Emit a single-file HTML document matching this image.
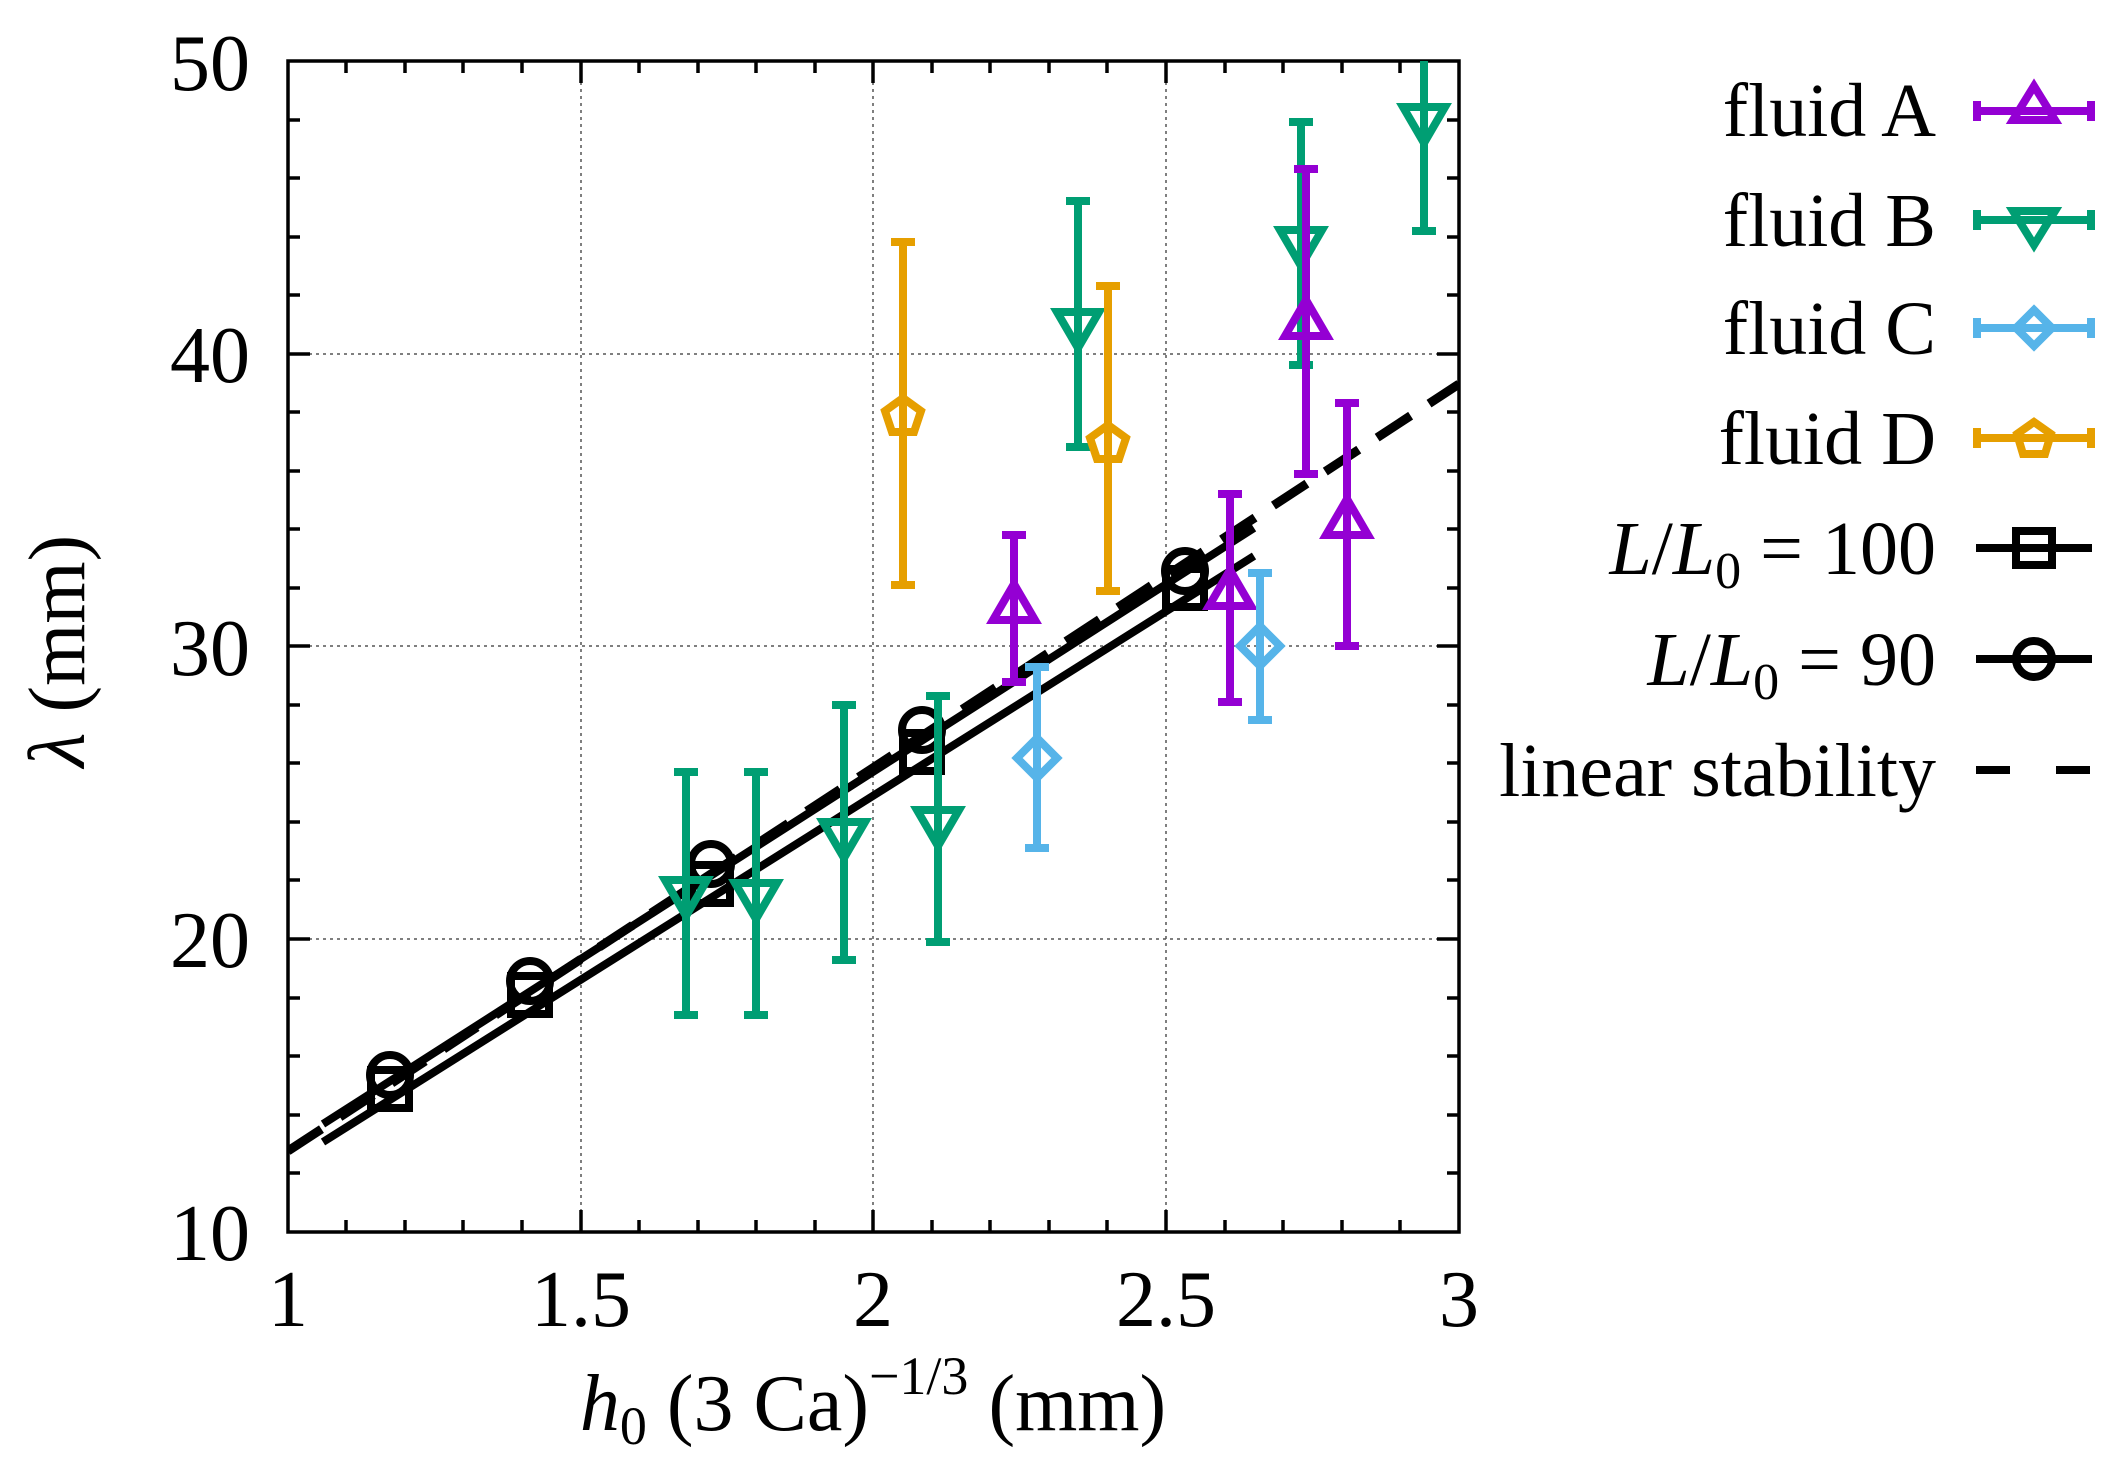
<!DOCTYPE html>
<html><head><meta charset="utf-8"><style>
html,body{margin:0;padding:0;background:#fff;}
svg{display:block;}
text{font-family:"Liberation Serif",serif;fill:#000;}
</style></head><body>
<svg width="2122" height="1465" viewBox="0 0 2122 1465" xmlns="http://www.w3.org/2000/svg">
<defs>
<clipPath id="c"><rect x="288" y="61" width="1171" height="1171"/></clipPath>
</defs>
<g stroke="#555" stroke-width="1.5" stroke-dasharray="3,4">
<line x1="581" y1="61" x2="581" y2="1232"/>
<line x1="873" y1="61" x2="873" y2="1232"/>
<line x1="1166" y1="61" x2="1166" y2="1232"/>
<line x1="288" y1="939" x2="1459" y2="939"/>
<line x1="288" y1="646" x2="1459" y2="646"/>
<line x1="288" y1="354" x2="1459" y2="354"/>
</g>
<g stroke="#000" stroke-width="3.5">
<path d="M346,1232v-12M405,1232v-12M463,1232v-12M522,1232v-12M581,1232v-22M639,1232v-12M698,1232v-12M756,1232v-12M815,1232v-12M873,1232v-22M932,1232v-12M990,1232v-12M1049,1232v-12M1107,1232v-12M1166,1232v-22M1225,1232v-12M1283,1232v-12M1342,1232v-12M1400,1232v-12"/>
<path d="M346,61v12M405,61v12M463,61v12M522,61v12M581,61v22M639,61v12M698,61v12M756,61v12M815,61v12M873,61v22M932,61v12M990,61v12M1049,61v12M1107,61v12M1166,61v22M1225,61v12M1283,61v12M1342,61v12M1400,61v12"/>
<path d="M288,1173h12M288,1115h12M288,1056h12M288,998h12M288,939h22M288,880h12M288,822h12M288,763h12M288,705h12M288,646h22M288,588h12M288,529h12M288,471h12M288,412h12M288,354h22M288,295h12M288,237h12M288,178h12M288,120h12"/>
<path d="M1459,1173h-12M1459,1115h-12M1459,1056h-12M1459,998h-12M1459,939h-22M1459,880h-12M1459,822h-12M1459,763h-12M1459,705h-12M1459,646h-22M1459,588h-12M1459,529h-12M1459,471h-12M1459,412h-12M1459,354h-22M1459,295h-12M1459,237h-12M1459,178h-12M1459,120h-12"/>
</g>
<rect x="288" y="61" width="1171" height="1171" fill="none" stroke="#000" stroke-width="3.5"/>
<g font-size="80" text-anchor="end">
<text x="250" y="1260">10</text><text x="250" y="967">20</text><text x="250" y="675">30</text><text x="250" y="382">40</text><text x="250" y="90">50</text>
</g>
<g font-size="80" text-anchor="middle">
<text x="288" y="1326">1</text><text x="581" y="1326">1.5</text><text x="873" y="1326">2</text><text x="1166" y="1326">2.5</text><text x="1459" y="1326">3</text>
</g>
<text x="873" y="1430" font-size="80" text-anchor="middle"><tspan font-style="italic">h</tspan><tspan font-size="54" dy="14">0</tspan><tspan dy="-14"> (3 Ca)</tspan><tspan font-size="54" dy="-36">−1/3</tspan><tspan dy="36"> (mm)</tspan></text>
<text transform="translate(84,651) rotate(-90)" font-size="80" text-anchor="middle"><tspan font-style="italic">λ</tspan> (mm)</text>

<g clip-path="url(#c)">
<line x1="288" y1="1151" x2="1459" y2="384" stroke="#000" stroke-width="9" stroke-dasharray="40,22"/>
<polyline points="323,1142 1254,556" stroke="#000" stroke-width="8" fill="none"/>
<polyline points="323,1124 1254,528" stroke="#000" stroke-width="8" fill="none"/>
<g fill="none" stroke="#000" stroke-width="8">
<rect x="371" y="1070" width="38" height="38"/><rect x="511" y="976" width="38" height="38"/><rect x="692" y="865" width="38" height="38"/><rect x="903" y="733" width="38" height="38"/><rect x="1166" y="569" width="38" height="38"/>
<circle cx="390" cy="1075" r="20"/><circle cx="530" cy="981" r="20"/><circle cx="711" cy="864" r="20"/><circle cx="922" cy="730" r="20"/><circle cx="1185" cy="571" r="20"/>
</g>
<g stroke="#009E73" stroke-width="8" fill="none">
<path d="M686,1015V772M674,1015h24M674,772h24 M756,1015V772M744,1015h24M744,772h24 M844,960V705M832,960h24M832,705h24 M938,942V696M926,942h24M926,696h24 M1078,447V201M1066,447h24M1066,201h24 M1301,365V122M1289,365h24M1289,122h24 M1424,231V40M1412,231h24"/>
<path d="M665,880h42l-21,36z M735,883h42l-21,36z M823,822h42l-21,36z M917,810h42l-21,36z M1057,312h42l-21,36z M1280,230h42l-21,36z M1403,107h42l-21,36z"/>
</g>
<g stroke="#9400D3" stroke-width="8" fill="none">
<path d="M1014,682V535M1002,682h24M1002,535h24 M1230,702V494M1218,702h24M1218,494h24 M1306,474V169M1294,474h24M1294,169h24 M1347,646V403M1335,646h24M1335,403h24"/>
<path d="M993,620h42l-21,-36z M1209,606h42l-21,-36z M1285,336h42l-21,-36z M1326,535h42l-21,-36z"/>
</g>
<g stroke="#56B4E9" stroke-width="8" fill="none">
<path d="M1037,848V667M1025,848h24M1025,667h24 M1260,720V573M1248,720h24M1248,573h24"/>
<path d="M1037,738l20,20l-20,20l-20,-20z M1260,626l20,20l-20,20l-20,-20z"/>
</g>
<g stroke="#E69F00" stroke-width="8" fill="none">
<path d="M903,585V242M891,585h24M891,242h24 M1108,591V286M1096,591h24M1096,286h24"/>
<path d="M903,398l18,13l-7,21h-22l-7,-21z M1108,425l18,13l-7,21h-22l-7,-21z"/>
</g>
</g>

<g font-size="76" text-anchor="end">
<text x="1936" y="136">fluid A</text>
<text x="1936" y="246">fluid B</text>
<text x="1936" y="354">fluid C</text>
<text x="1936" y="464">fluid D</text>
<text x="1936" y="574"><tspan font-style="italic">L</tspan>/<tspan font-style="italic">L</tspan><tspan font-size="52" dy="14">0</tspan><tspan dy="-14"> = 100</tspan></text>
<text x="1936" y="685"><tspan font-style="italic">L</tspan>/<tspan font-style="italic">L</tspan><tspan font-size="52" dy="14">0</tspan><tspan dy="-14"> = 90</tspan></text>
<text x="1936" y="796">linear stability</text>
</g>
<g stroke-width="8" fill="none">
<g stroke="#9400D3"><path d="M1973,111h122M1977,101v20M2091,101v20M2013,120h42l-21,-34z"/></g>
<g stroke="#009E73"><path d="M1973,220h122M1977,210v20M2091,210v20M2013,211h42l-21,34z"/></g>
<g stroke="#56B4E9"><path d="M1973,328h122M1977,318v20M2091,318v20M2034,310l18,18l-18,18l-18,-18z"/></g>
<g stroke="#E69F00"><path d="M1973,438h122M1977,428v20M2091,428v20M2034,422l17,12l-6,20h-22l-6,-20z"/></g>
<g stroke="#000"><path d="M1976,548h116"/><rect x="2016" y="531" width="36" height="34"/></g>
<g stroke="#000"><path d="M1976,659h116"/><circle cx="2034" cy="659" r="18"/></g>
<g stroke="#000"><path d="M1976,770h34M2056,770h34"/></g>
</g>
</svg>
</body></html>
